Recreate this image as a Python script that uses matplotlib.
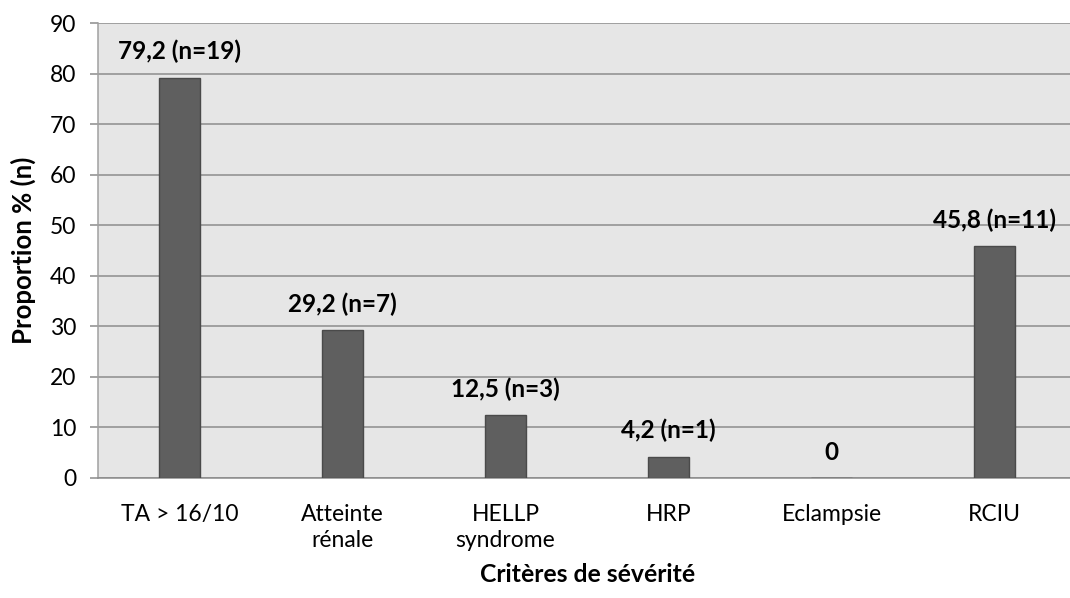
import matplotlib.pyplot as plt

CATEGORIES = ["TA > 16/10", "Atteinte\nrénale", "HELLP\nsyndrome", "HRP", "Eclampsie", "RCIU"]
PROPORTIONS = [79.2, 29.2, 12.5, 4.2, 0.0, 45.8]
COUNTS = [19, 7, 3, 1, 0, 11]
Y_TICKS = list(range(0, 91, 10))

plt.rcParams["font.family"] = ["Lato", "DejaVu Sans"]

fig = plt.figure(figsize=(10.7, 5.98), dpi=100)
ax = fig.add_axes([98 / 1070, 1 - 478 / 598, 978 / 1070, 455 / 598])
ax.set_facecolor("#E6E6E6")

x = list(range(len(CATEGORIES)))
ax.bar(x, PROPORTIONS, width=0.25, color="#5F5F5F", edgecolor="#4A4A4A", linewidth=1, zorder=3)

for xi, v, n in zip(x, PROPORTIONS, COUNTS):
    label = "0" if v == 0 else f"{v:.1f}".replace(".", ",") + f" (n={n})"
    ax.annotate(label, (xi, v), xytext=(0, 26), textcoords="offset pixels",
                ha="center", va="center", fontsize=17.5, fontweight="bold", color="black")

ax.set_xlim(-0.5, len(CATEGORIES) - 0.5)
ax.set_ylim(0, 90)
ax.set_yticks(Y_TICKS)
ax.yaxis.grid(True, color="#8C8C8C", linewidth=1.1, zorder=0)
ax.set_axisbelow(True)
ax.set_xticks(x)
ax.set_xticklabels(CATEGORIES, fontsize=16.5, linespacing=1.3)
ax.tick_params(axis="x", length=0, pad=19)
ax.tick_params(axis="y", length=5.8, width=1.1, color="#8C8C8C", labelsize=16.5, pad=10)

for side in ["top", "right"]:
    ax.spines[side].set_visible(False)
ax.spines["left"].set_color("#A0A0A0")
ax.spines["left"].set_linewidth(1.1)
ax.spines["bottom"].set_color("#8C8C8C")
ax.spines["bottom"].set_linewidth(1.1)

fig.text(23 / 1070, 1 - 250 / 598, "Proportion % (n)", fontsize=18.5, fontweight="bold",
         rotation=90, ha="center", va="center")
fig.text(588 / 1070, 1 - 574 / 598, "Critères de sévérité", fontsize=17.8, fontweight="bold",
         ha="center", va="center")

fig.savefig("out.png", dpi=100)
